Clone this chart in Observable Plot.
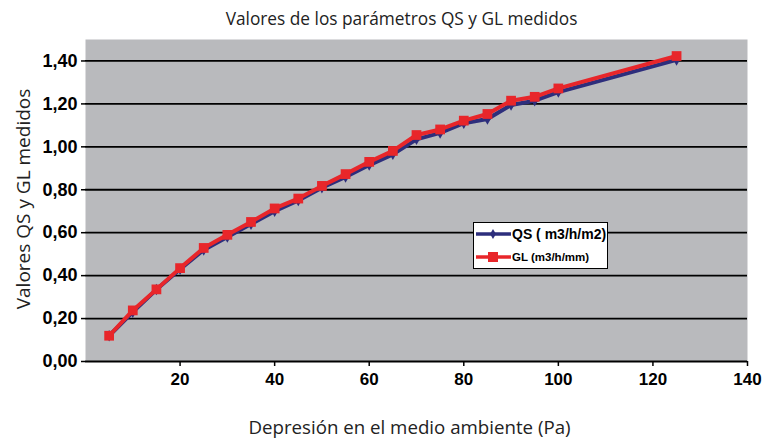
<!DOCTYPE html>
<html>
<head>
<meta charset="utf-8">
<script src="https://cdn.jsdelivr.net/npm/d3@7"></script>
<script src="https://cdn.jsdelivr.net/npm/@observablehq/plot@0.6"></script>
<style>
  body { margin: 0; background: white; }
  #wrap { position: relative; width: 768px; height: 439px; }
  #legend { position: absolute; left: 473px; top: 222px; }
</style>
</head>
<body>
<div id="wrap"></div>
<script>
const depresion = [5, 10, 15, 20, 25, 30, 35, 40, 45, 50, 55, 60, 65, 70, 75, 80, 85, 90, 95, 100, 125];
const qs = [0.12, 0.23, 0.335, 0.43, 0.52, 0.58, 0.64, 0.70, 0.75, 0.81, 0.86, 0.915, 0.965, 1.035, 1.065, 1.11, 1.13, 1.195, 1.215, 1.255, 1.405];
const gl = [0.12, 0.238, 0.336, 0.435, 0.529, 0.59, 0.65, 0.713, 0.759, 0.818, 0.873, 0.93, 0.981, 1.055, 1.081, 1.122, 1.153, 1.215, 1.233, 1.272, 1.423];
const xTicks = [20, 40, 60, 80, 100, 120, 140];
const yTicks = [0, 0.2, 0.4, 0.6, 0.8, 1.0, 1.2, 1.4];
const seriesNames = ["QS ( m3/h/m2)", "GL (m3/h/mm)"];
const titleText = "Valores de los parámetros QS y GL medidos";
const xLabel = "Depresión en el medio ambiente (Pa)";
const yLabel = "Valores QS y GL medidos";

const qsData = depresion.map((x, i) => ({x, y: qs[i]}));
const glData = depresion.map((x, i) => ({x, y: gl[i]}));

const BLUE = "#2d2e7c";
const RED = "#e8262a";
const fmt = d => d.toFixed(2).replace(".", ",");

const chart = Plot.plot({
  width: 768,
  height: 439,
  marginLeft: 85,
  marginRight: 21,
  marginTop: 39,
  marginBottom: 78,
  x: {domain: [0, 140]},
  y: {domain: [0, 1.5]},
  style: {background: "white", fontFamily: "'Liberation Sans', Arial, sans-serif", color: "black"},
  marks: [
    Plot.frame({fill: "#b9babd", stroke: "none"}),
    Plot.gridY(yTicks.filter(d => d > 0), {stroke: "black", strokeOpacity: 1, strokeWidth: 1.8}),
    Plot.ruleY([0], {stroke: "black", strokeWidth: 2.2}),
    Plot.axisY({ticks: yTicks, tickFormat: fmt, tickSize: 4, tickPadding: 4, label: null, fontWeight: "bold", fontSize: 18, strokeWidth: 1.5}),
    Plot.axisX({ticks: xTicks, tickSize: 5, tickPadding: 6, label: null, fontWeight: "bold", fontSize: 17, strokeWidth: 1.5}),
    Plot.line(qsData, {x: "x", y: "y", stroke: BLUE, strokeWidth: 4}),
    Plot.dot(qsData, {x: "x", y: "y", symbol: "diamond", r: 3.5, fill: BLUE, stroke: "none"}),
    Plot.line(glData, {x: "x", y: "y", stroke: RED, strokeWidth: 4}),
    Plot.dot(glData, {x: "x", y: "y", symbol: "square", r: 5.5, fill: RED, stroke: "none"}),
    Plot.text([titleText], {frameAnchor: "top", dx: -15, dy: -20, lineAnchor: "middle", fontSize: 17.3, fontFamily: "'Open Sans', sans-serif", fontWeight: "normal", fill: "#222"}),
    Plot.text([yLabel], {frameAnchor: "left", dx: -62, dy: -1.5, rotate: -90, textAnchor: "middle", lineAnchor: "middle", fontSize: 19, fontFamily: "'Open Sans', sans-serif", fontWeight: "normal", fill: "#222"}),
    Plot.text([xLabel], {frameAnchor: "bottom", dx: -7, dy: 67, lineAnchor: "middle", fontSize: 18.7, fontFamily: "'Open Sans', sans-serif", fontWeight: "normal", fill: "#222"})
  ]
});

const wrap = document.getElementById("wrap");
wrap.appendChild(chart);

// legend
const lg = d3.select(wrap).append("svg").attr("id", "legend")
  .attr("width", 136).attr("height", 48)
  .style("font-family", "'Liberation Sans', Arial, sans-serif");
lg.append("rect").attr("x", 0.5).attr("y", 0.5).attr("width", 134).attr("height", 46)
  .attr("fill", "white").attr("stroke", "black").attr("stroke-width", 1);
lg.append("line").attr("x1", 3).attr("x2", 38).attr("y1", 12).attr("y2", 12).attr("stroke", BLUE).attr("stroke-width", 3.5);
lg.append("path").attr("d", d3.symbol(d3.symbolDiamond, 30)()).attr("transform", "translate(20,12)").attr("fill", BLUE);
lg.append("text").attr("x", 39).attr("y", 17).attr("font-size", 14).attr("font-weight", "bold").text(seriesNames[0]);
lg.append("line").attr("x1", 3).attr("x2", 38).attr("y1", 35).attr("y2", 35).attr("stroke", RED).attr("stroke-width", 3.5);
lg.append("rect").attr("x", 15).attr("y", 30).attr("width", 10).attr("height", 10).attr("fill", RED);
lg.append("text").attr("x", 39).attr("y", 39).attr("font-size", 11.5).attr("font-weight", "bold").text(seriesNames[1]);
</script>
</body>
</html>
